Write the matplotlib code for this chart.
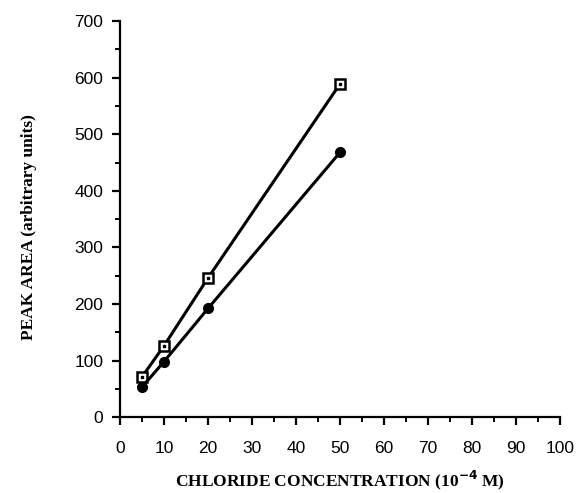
import matplotlib.pyplot as plt
from matplotlib.ticker import MultipleLocator

# chloride concentration (10^-4 M) and peak areas
conc = [5, 10, 20, 50]
area_squares = [71, 126, 246, 589]
area_circles = [53, 98, 192, 468]

xticks = list(range(0, 101, 10))
yticks = list(range(0, 701, 100))

fig = plt.figure(figsize=(5.78, 4.93), dpi=100)
ax = fig.add_axes([0.2076, 0.154, 0.7612, 0.803])

ax.plot(conc, area_squares, color='black', linewidth=2.2, marker='s', markersize=7,
        markerfacecolor='white', markeredgecolor='black', markeredgewidth=1.8, zorder=3)
ax.plot(conc, area_squares, linestyle='none', marker='s', markersize=2,
        color='black', zorder=4)
ax.plot(conc, area_circles, color='black', linewidth=2.2, marker='o', markersize=7,
        markerfacecolor='black', zorder=3)

ax.set_xlim(0, 100)
ax.set_ylim(0, 700)
ax.set_xticks(xticks)
ax.set_yticks(yticks)
ax.xaxis.set_minor_locator(MultipleLocator(5))
ax.yaxis.set_minor_locator(MultipleLocator(50))

for side in ['top', 'right']:
    ax.spines[side].set_visible(False)
for side in ['left', 'bottom']:
    ax.spines[side].set_linewidth(1.6)

ax.tick_params(which='major', direction='out', length=6, width=1.6, labelsize=12.5, pad=11)
ax.tick_params(axis='y', which='major', pad=6)
ax.tick_params(which='minor', direction='out', length=3.5, width=1.4)
for lbl in ax.get_xticklabels() + ax.get_yticklabels():
    lbl.set_fontfamily('Liberation Sans')

ax.set_xlabel('CHLORIDE CONCENTRATION (10$^{\\mathbf{-4}}$ M)', fontsize=12.5,
              fontweight='bold', family='Liberation Serif')
ax.set_ylabel('PEAK AREA (arbitrary units)', fontsize=12.5, fontweight='bold',
              family='Liberation Serif')
ax.xaxis.set_label_coords(0.5, -0.13)
ax.yaxis.set_label_coords(-0.189, 0.48)

fig.savefig('out.png', dpi=100)
